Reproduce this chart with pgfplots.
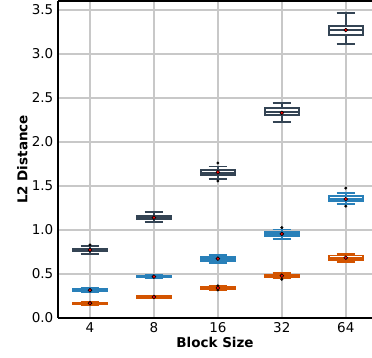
\documentclass[border=0pt]{standalone}
\usepackage{pgfplots}
\pgfplotsset{compat=1.18}
\usepgfplotslibrary{statistics}
\usepackage{fontspec}
\setmainfont{DejaVu Sans}
\definecolor{cdark}{RGB}{52,68,84}
\definecolor{cblue}{RGB}{41,128,185}
\definecolor{corange}{RGB}{211,84,0}
\definecolor{cgrid}{RGB}{200,200,200}
\begin{document}
\fontsize{13.5}{16}\selectfont
\begin{tikzpicture}
\begin{axis}[
  scale only axis,
  width=314pt, height=317pt,
  xmin=-0.5, xmax=4.41,
  ymin=0, ymax=3.60,
  axis x line=box, axis y line=left,
  axis line style={line width=1.6pt, -},
  xtick={0,1,2,3,4},
  xticklabels={4,8,16,32,64},
  ytick={0,0.5,1,1.5,2,2.5,3,3.5},
  yticklabel style={/pgf/number format/.cd, fixed, fixed zerofill, precision=1},
  /pgf/number format/assume math mode=true,
  major tick length=0pt,
  grid=major,
  major grid style={cgrid, line width=1.5pt},
  xlabel={\textbf{Block Size}},
  ylabel={\textbf{L2 Distance}},
  tick label style={font=\fontsize{13.5}{16}\selectfont},
  label style={font=\fontsize{13.5}{16}\selectfont},
  xlabel style={yshift=5pt},
  ylabel style={yshift=-5pt},
  boxplot/draw direction=y,
  boxplot/box extend=0.53,
  boxplot/whisker extend=0.29,
  boxplot/every box/.style={fill=white},
]
% dark series
\addplot[boxplot prepared={draw position=0, lower whisker=0.727, lower quartile=0.758, median=0.773, upper quartile=0.787, upper whisker=0.82}, draw=cdark, line width=1.8pt] coordinates {};
\addplot[boxplot prepared={draw position=1, lower whisker=1.09, lower quartile=1.12, median=1.14, upper quartile=1.16, upper whisker=1.20}, draw=cdark, line width=1.8pt] coordinates {};
\addplot[boxplot prepared={draw position=2, lower whisker=1.58, lower quartile=1.625, median=1.65, upper quartile=1.68, upper whisker=1.72}, draw=cdark, line width=1.8pt] coordinates {};
\addplot[boxplot prepared={draw position=3, lower whisker=2.23, lower quartile=2.306, median=2.335, upper quartile=2.384, upper whisker=2.445}, draw=cdark, line width=1.8pt] coordinates {};
\addplot[boxplot prepared={draw position=4, lower whisker=3.11, lower quartile=3.215, median=3.27, upper quartile=3.32, upper whisker=3.46}, draw=cdark, line width=1.8pt] coordinates {};
% blue series
\addplot[boxplot prepared={draw position=0, lower whisker=0.292, lower quartile=0.305, median=0.315, upper quartile=0.325, upper whisker=0.345}, draw=cblue, line width=1.8pt] coordinates {};
\addplot[boxplot prepared={draw position=1, lower whisker=0.448, lower quartile=0.46, median=0.47, upper quartile=0.48, upper whisker=0.49}, draw=cblue, line width=1.8pt] coordinates {};
\addplot[boxplot prepared={draw position=2, lower whisker=0.625, lower quartile=0.65, median=0.672, upper quartile=0.695, upper whisker=0.715}, draw=cblue, line width=1.8pt] coordinates {};
\addplot[boxplot prepared={draw position=3, lower whisker=0.897, lower quartile=0.93, median=0.955, upper quartile=0.98, upper whisker=1.005}, draw=cblue, line width=1.8pt] coordinates {};
\addplot[boxplot prepared={draw position=4, lower whisker=1.295, lower quartile=1.333, median=1.35, upper quartile=1.386, upper whisker=1.424}, draw=cblue, line width=1.8pt] coordinates {};
% orange series
\addplot[boxplot prepared={draw position=0, lower whisker=0.152, lower quartile=0.16, median=0.167, upper quartile=0.175, upper whisker=0.185}, draw=corange, line width=1.8pt] coordinates {};
\addplot[boxplot prepared={draw position=1, lower whisker=0.222, lower quartile=0.23, median=0.239, upper quartile=0.248, upper whisker=0.256}, draw=corange, line width=1.8pt] coordinates {};
\addplot[boxplot prepared={draw position=2, lower whisker=0.322, lower quartile=0.332, median=0.341, upper quartile=0.35, upper whisker=0.36}, draw=corange, line width=1.8pt] coordinates {};
\addplot[boxplot prepared={draw position=3, lower whisker=0.448, lower quartile=0.462, median=0.480, upper quartile=0.495, upper whisker=0.508}, draw=corange, line width=1.8pt] coordinates {};
\addplot[boxplot prepared={draw position=4, lower whisker=0.64, lower quartile=0.66, median=0.685, upper quartile=0.71, upper whisker=0.73}, draw=corange, line width=1.8pt] coordinates {};
% fliers
\addplot[only marks, mark=*, mark size=1.3pt, black] coordinates {
  (0,0.83) (2,1.76) (2,1.556) (3,1.026) (4,1.475) (4,1.27) (2,0.365) (2,0.318) (3,0.44)
};
% means
\addplot[only marks, mark=*, mark size=1.9pt, draw=black, fill=red, line width=0.6pt] coordinates {
  (0,0.773) (1,1.14) (2,1.655) (3,2.33) (4,3.27)
  (0,0.315) (1,0.47) (2,0.674) (3,0.955) (4,1.35)
  (0,0.167) (1,0.239) (2,0.341) (3,0.48) (4,0.685)
};
\end{axis}
\pgfresetboundingbox
\path[use as bounding box] ([xshift=-58pt,yshift=-40pt]current axis.south west) rectangle ([yshift=1pt]current axis.north east);
\end{tikzpicture}
\end{document}
